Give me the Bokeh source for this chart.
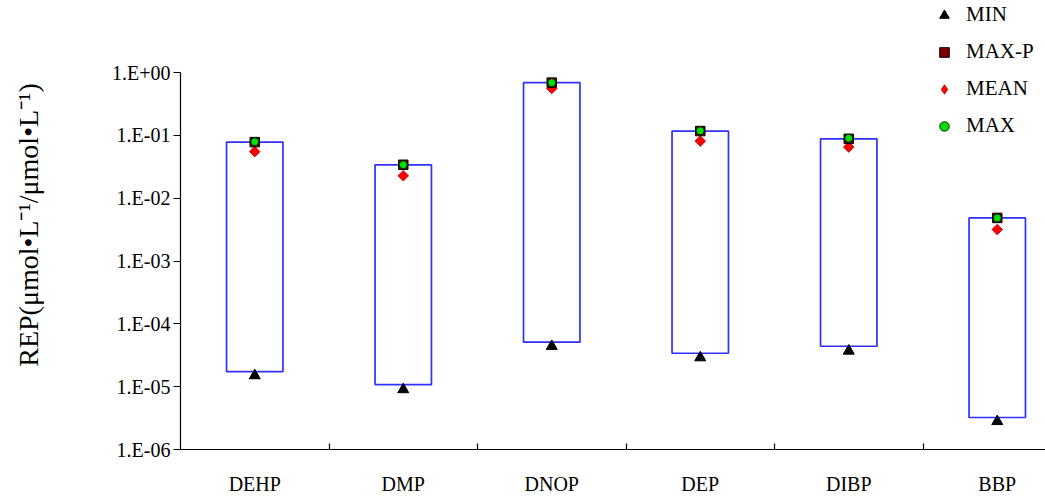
import math
from bokeh.plotting import figure
from bokeh.models import (Range1d, FixedTicker, CustomJSTickFormatter, Legend, LegendItem)
from bokeh.embed import file_html
from bokeh.resources import INLINE

# ---- data ----
categories = ["DEHP", "DMP", "DNOP", "DEP", "DIBP", "BBP"]
box_low = [1.74e-5, 1.08e-5, 5.1e-5, 3.4e-5, 4.4e-5, 3.23e-6]
max_p_vals = [7.8e-2, 3.4e-2, 6.9e-1, 1.17e-1, 8.8e-2, 4.85e-3]
max_vals = [7.9e-2, 3.4e-2, 6.9e-1, 1.18e-1, 9.0e-2, 4.85e-3]
mean_vals = [5.5e-2, 2.27e-2, 5.56e-1, 8.1e-2, 6.5e-2, 3.17e-3]
min_vals = [1.5e-5, 9.0e-6, 4.4e-5, 2.9e-5, 3.7e-5, 2.8e-6]
y_ticks = [1e-6, 1e-5, 1e-4, 1e-3, 1e-2, 1e-1, 1.0]
y_title = "REP(\u03bcmol\u2022L\u207b\u00b9/\u03bcmol\u2022L\u207b\u00b9)"

x_pos = [i + 0.5 for i in range(len(categories))]
boundaries = list(range(1, len(categories)))
BOX_HALF = 0.19
FONT = "Liberation Serif"

p = figure(width=1045, height=499, output_backend="svg", toolbar_location=None,
           y_axis_type="log",
           x_range=Range1d(0, 865 / 148.5), y_range=Range1d(1e-6, 10 ** 1.146),
           min_border_left=180, min_border_right=0, min_border_top=0,
           min_border_bottom=50)
p.outline_line_color = None
p.grid.visible = False
p.background_fill_color = "white"

# boxes
p.quad(left=[x - BOX_HALF for x in x_pos], right=[x + BOX_HALF for x in x_pos],
       bottom=box_low, top=max_p_vals, fill_color="white",
       line_color="#3030ff", line_width=1.7)

# legend-only diamond for MEAN (hidden in plot)
r_mean_leg = p.scatter(x_pos, mean_vals, marker="diamond", size=12,
                       fill_color="#ff0000", line_color="#b00000", line_width=0.8,
                       visible=False)
r_mean = p.scatter(x_pos, mean_vals, marker="square", angle=math.pi / 4, size=7.5,
                   fill_color="#ff0000", line_color="#b00000", line_width=0.8)
r_maxp = p.scatter(x_pos, max_p_vals, marker="square", size=9.5,
                   fill_color="#800000", line_color="black", line_width=1)
r_max = p.scatter(x_pos, max_vals, marker="circle", size=8,
                  fill_color="#00e000", line_color="black", line_width=0.8)
r_min = p.scatter(x_pos, min_vals, marker="triangle", size=11,
                  fill_color="black", line_color="black")

# y axis
ya = p.yaxis[0]
ya.ticker = FixedTicker(ticks=y_ticks)
ya.formatter = CustomJSTickFormatter(code="""
const e = Math.round(Math.log10(tick));
const s = e < 0 ? "-" : "+";
const a = Math.abs(e);
return "1.E" + s + (a < 10 ? "0" + a : "" + a);
""")
ya.bounds = (y_ticks[0], y_ticks[-1])
ya.major_tick_in = 0
ya.major_tick_out = 7
ya.minor_tick_line_color = None
ya.axis_line_color = "black"
ya.axis_line_width = 1.2
ya.major_tick_line_color = "black"
ya.major_tick_line_width = 1.2
ya.major_label_text_font = FONT
ya.major_label_text_font_size = "20px"
ya.major_label_text_color = "black"
ya.major_label_standoff = 3
ya.axis_label = y_title
ya.axis_label_text_font = FONT
ya.axis_label_text_font_size = "28px"
ya.axis_label_text_font_style = "normal"
ya.axis_label_text_color = "black"
ya.axis_label_standoff = 65

# x axis
xa = p.xaxis[0]
xa.ticker = FixedTicker(ticks=x_pos, minor_ticks=boundaries)
xa.formatter = CustomJSTickFormatter(args=dict(cats=categories),
                                     code="return cats[Math.floor(tick)];")
xa.major_tick_line_color = None
xa.major_tick_in = 0
xa.major_tick_out = 0
xa.minor_tick_in = 6
xa.minor_tick_out = 0
xa.minor_tick_line_color = "black"
xa.minor_tick_line_width = 1.2
xa.axis_line_color = "black"
xa.axis_line_width = 1.2
xa.major_label_text_font = FONT
xa.major_label_text_font_size = "20px"
xa.major_label_text_color = "black"
xa.major_label_standoff = 23

legend = Legend(items=[LegendItem(label="MIN", renderers=[r_min]),
                       LegendItem(label="MAX-P", renderers=[r_maxp]),
                       LegendItem(label="MEAN", renderers=[r_mean_leg]),
                       LegendItem(label="MAX", renderers=[r_max])],
                location=(752, 311))
legend.border_line_color = None
legend.background_fill_alpha = 0
legend.inactive_fill_alpha = 0
legend.label_text_font = FONT
legend.label_text_font_size = "21px"
legend.label_text_color = "black"
legend.glyph_width = 24
legend.glyph_height = 24
legend.label_height = 24
legend.spacing = 12
legend.padding = 0
legend.margin = 0
legend.label_standoff = 10
p.add_layout(legend)

open("out.html", "w").write(file_html(p, INLINE))
